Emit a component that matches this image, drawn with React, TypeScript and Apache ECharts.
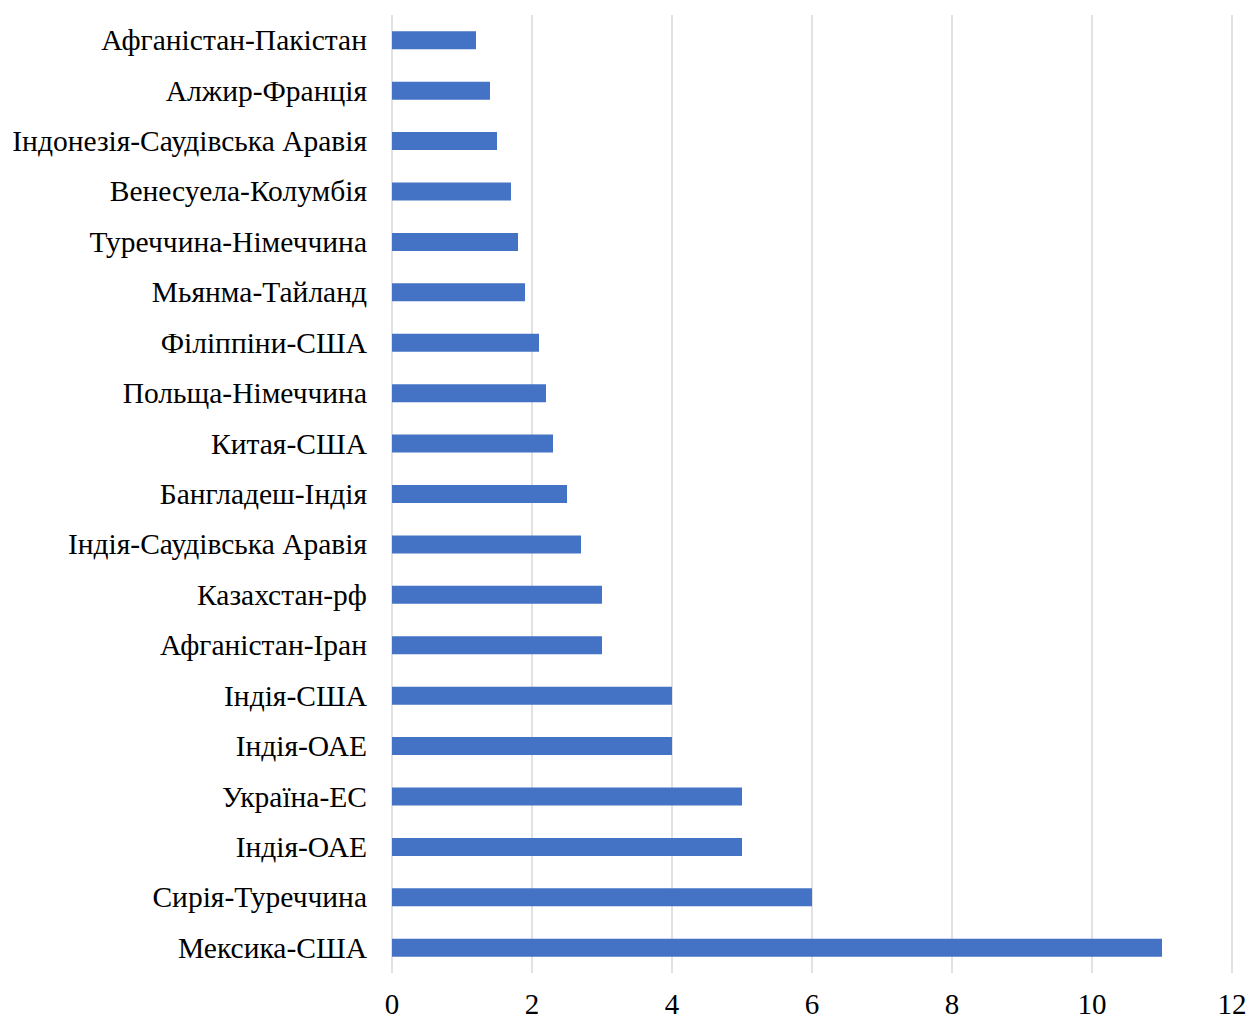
import React, { useEffect, useRef } from "react";
import * as echarts from "echarts";

const categories = [
  "Афганістан-Пакістан",
  "Алжир-Франція",
  "Індонезія-Саудівська Аравія",
  "Венесуела-Колумбія",
  "Туреччина-Німеччина",
  "Мьянма-Тайланд",
  "Філіппіни-США",
  "Польща-Німеччина",
  "Китая-США",
  "Бангладеш-Індія",
  "Індія-Саудівська Аравія",
  "Казахстан-рф",
  "Афганістан-Іран",
  "Індія-США",
  "Індія-ОАЕ",
  "Україна-ЕС",
  "Індія-ОАЕ",
  "Сирія-Туреччина",
  "Мексика-США",
];

const values = [1.2, 1.4, 1.5, 1.7, 1.8, 1.9, 2.1, 2.2, 2.3, 2.5, 2.7, 3, 3, 4, 4, 5, 5, 6, 11];

const xTicks = { min: 0, max: 12, interval: 2 };

export default function App() {
  const ref = useRef<HTMLDivElement>(null);
  useEffect(() => {
    if (!ref.current) return;
    const chart = echarts.init(ref.current, undefined, { renderer: "svg" });
    const font = "Liberation Serif";
    chart.setOption({
      animation: false,
      backgroundColor: "#ffffff",
      textStyle: { fontFamily: font },
      grid: {
        left: 392,
        right: 20,
        top: 15,
        bottom: 46,
        containLabel: false,
        outerBoundsMode: "none",
      },
      xAxis: {
        type: "value",
        min: xTicks.min,
        max: xTicks.max,
        interval: xTicks.interval,
        axisLine: { show: false },
        axisTick: { show: false },
        axisLabel: {
          color: "#000",
          fontFamily: font,
          fontSize: 29,
          lineHeight: 29,
          margin: 16,
        },
        splitLine: { show: true, lineStyle: { color: "#d9d9d9", width: 1.5 } },
      },
      yAxis: {
        type: "category",
        inverse: true,
        data: categories,
        axisLine: { show: false },
        axisTick: { show: false },
        axisLabel: { color: "#000", fontFamily: font, fontSize: 29.5, margin: 25 },
        splitLine: { show: false },
      },
      series: [
        {
          type: "bar",
          data: values,
          barWidth: 18,
          itemStyle: { color: "#4472C4" },
        },
      ],
    });
    return () => chart.dispose();
  }, []);
  return (
    <div
      ref={ref}
      style={{ position: "absolute", left: 0, top: 0, width: 1252, height: 1019 }}
    />
  );
}
